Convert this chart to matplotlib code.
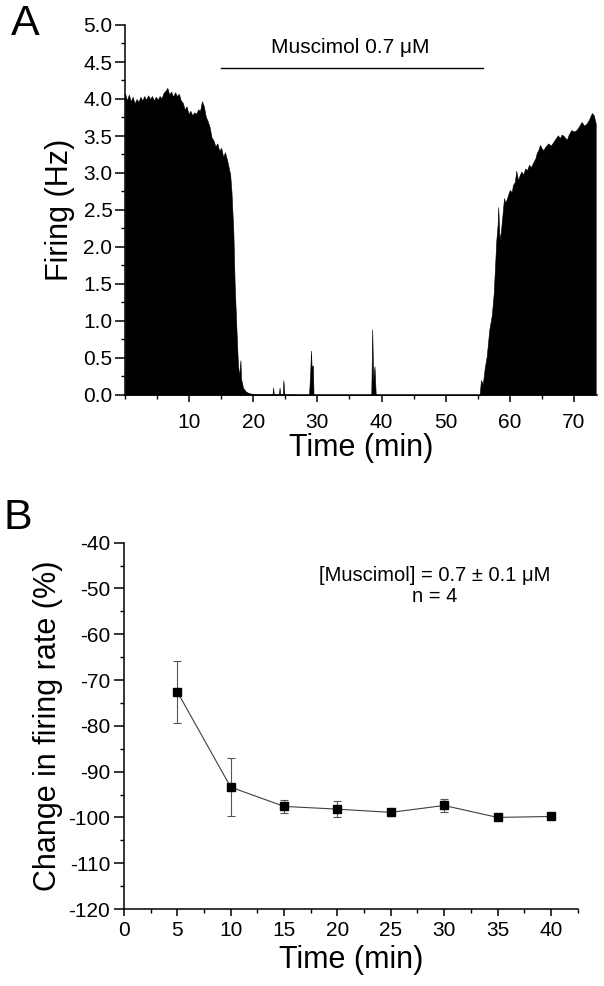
import matplotlib
matplotlib.use("Agg")
import matplotlib.pyplot as plt
from matplotlib.ticker import MultipleLocator, FormatStrFormatter

plt.rcParams['font.family'] = ['Liberation Sans', 'DejaVu Sans']
plt.rcParams['axes.unicode_minus'] = False

# ---- Panel A: firing-rate trace (time in min, rate in Hz) ----
trace_time = [
    0.0, 0.3, 0.6, 0.9, 1.2, 1.5, 1.8, 2.1, 2.4, 2.7, 3.0, 3.3, 3.6, 3.9,
    4.2, 4.5, 4.8, 5.1, 5.4, 5.7, 6.0, 6.3, 6.6, 6.9, 7.2, 7.5, 7.8, 8.1,
    8.4, 8.7, 9.0, 9.3, 9.6, 9.9, 10.2, 10.5, 10.8, 11.1, 11.4, 11.7, 12.0,
    12.3, 12.6, 12.9, 13.2, 13.5, 13.8, 14.1, 14.4, 14.7, 15.0, 15.3, 15.6,
    15.9, 16.1, 16.4, 16.6, 16.9, 17.1, 17.4, 17.6, 17.8, 18.0, 18.1, 18.4,
    18.8, 19.2, 19.6, 20.5, 23.0, 23.1, 23.2, 24.0, 24.1, 24.2, 24.6, 24.7,
    24.85, 28.7, 28.9, 29.0, 29.1, 29.3, 29.4, 38.4, 38.55, 38.7, 38.9, 39.1,
    55.3, 55.5, 55.8, 56.1, 56.4, 56.8, 57.2, 57.5, 57.9, 58.1, 58.2, 58.4,
    58.6, 58.8, 59.1, 59.3, 59.5, 59.8, 60.0, 60.3, 60.5, 60.8, 61.0, 61.3,
    61.5, 61.8, 62.1, 62.4, 62.7, 63.0, 63.3, 63.7, 64.0, 64.2, 64.5, 64.7,
    65.0, 65.2, 65.6, 66.0, 66.4, 66.8, 67.1, 67.5, 67.8, 68.1, 68.4, 68.9,
    69.2, 69.6, 70.0, 70.4, 70.8, 71.2, 71.6, 72.0, 72.4, 72.8, 73.1, 73.4,
]
trace_rate = [
    4.08, 3.98, 4.06, 3.97, 4.03, 3.94, 4.00, 3.96, 4.03, 3.98, 4.04, 3.99,
    4.05, 4.00, 4.04, 3.98, 4.03, 3.99, 4.04, 4.01, 4.08, 4.11, 4.15, 4.06,
    4.10, 4.03, 4.09, 4.04, 4.07, 3.98, 3.95, 3.86, 3.90, 3.80, 3.84, 3.78,
    3.82, 3.80, 3.86, 3.84, 3.97, 3.90, 3.76, 3.70, 3.62, 3.48, 3.44, 3.36,
    3.40, 3.30, 3.34, 3.22, 3.28, 3.18, 3.10, 2.98, 2.75, 2.20, 1.50, 0.84,
    0.43, 0.25, 0.47, 0.22, 0.10, 0.05, 0.03, 0.02, 0.01, 0.01, 0.10, 0.01,
    0.01, 0.10, 0.01, 0.01, 0.20, 0.01, 0.0, 0.35, 0.60, 0.38, 0.40, 0.0,
    0.0, 0.89, 0.20, 0.39, 0.0, 0.0, 0.20, 0.15, 0.37, 0.52, 0.88, 1.08,
    1.38, 2.09, 2.30, 2.54, 2.10, 2.20, 2.38, 2.66, 2.60, 2.64, 2.72, 2.77,
    2.74, 2.84, 2.88, 3.03, 2.90, 2.96, 3.02, 2.98, 3.06, 3.04, 3.11, 3.08,
    3.15, 3.20, 3.27, 3.32, 3.38, 3.33, 3.31, 3.36, 3.40, 3.37, 3.42, 3.46,
    3.51, 3.47, 3.52, 3.50, 3.45, 3.52, 3.58, 3.56, 3.58, 3.63, 3.69, 3.64,
    3.67, 3.73, 3.81, 3.78, 3.67,
]
drug_label = "Muscimol 0.7 \u03bcM"
drug_start, drug_end = 14.9, 55.8

# ---- Panel B: mean change in firing rate ----
b_time = [5, 10, 15, 20, 25, 30, 35, 40]
b_change = [-72.6, -93.4, -97.6, -98.2, -98.9, -97.4, -100.0, -99.8]
b_err = [6.7, 6.4, 1.4, 1.8, 0.8, 1.4, 0.0, 0.2]

W, H = 604, 986
fig = plt.figure(figsize=(W / 100, H / 100), dpi=100)

def style_axes(ax):
    for s in ('top', 'right'):
        ax.spines[s].set_visible(False)
    for s in ('left', 'bottom'):
        ax.spines[s].set_linewidth(1.1)
    ax.tick_params(which='major', direction='out', length=5, width=1.1,
                   labelsize=15)
    ax.tick_params(which='minor', direction='out', length=3, width=1.0)

# Panel A
axA = fig.add_axes([125 / W, 1 - 395 / H, 472 / W, 370 / H])
axA.fill_between(trace_time, trace_rate, 0, color='black', linewidth=0.4,
                 edgecolor='black')
axA.set_xlim(0, 73.6)
axA.set_ylim(0, 5)
axA.set_xticks([10, 20, 30, 40, 50, 60, 70])
axA.xaxis.set_minor_locator(MultipleLocator(5))
axA.yaxis.set_major_locator(MultipleLocator(0.5))
axA.yaxis.set_minor_locator(MultipleLocator(0.25))
axA.yaxis.set_major_formatter(FormatStrFormatter('%.1f'))
style_axes(axA)
axA.tick_params(axis='x', which='major', pad=8)
axA.tick_params(axis='y', which='major', pad=2, length=7)
axA.set_xlabel('Time (min)', fontsize=22, labelpad=1)
axA.set_ylabel('Firing (Hz)', fontsize=22, labelpad=6)
axA.plot([drug_start, drug_end], [4.42, 4.42], color='black', lw=1.0,
         clip_on=False)
axA.text((drug_start + drug_end) / 2 - 0.3, 4.70, drug_label, fontsize=15,
         ha='center', va='center')

# Panel B
axB = fig.add_axes([124 / W, 1 - 909 / H, 454 / W, 366.4 / H])
axB.errorbar(b_time, b_change, yerr=b_err, fmt='-s', color='#404040',
             lw=0.8, ecolor='#555555', elinewidth=0.8, capsize=3,
             capthick=0.8, markersize=5.5, markerfacecolor='black',
             markeredgecolor='black', clip_on=False)
axB.set_xlim(0, 42.54)
axB.set_ylim(-120, -40)
axB.xaxis.set_major_locator(MultipleLocator(5))
axB.xaxis.set_minor_locator(MultipleLocator(2.5))
axB.yaxis.set_major_locator(MultipleLocator(10))
axB.yaxis.set_minor_locator(MultipleLocator(5))
style_axes(axB)
axB.tick_params(axis='x', which='major', pad=4)
axB.tick_params(axis='y', which='major', pad=3, length=7)
axB.set_xlabel('Time (min)', fontsize=22, labelpad=3)
axB.set_ylabel('Change in firing rate (%)', fontsize=22, labelpad=4)
axB.text(29.1, -47.1, '[Muscimol] = 0.7 \u00b1 0.1 \u03bcM', fontsize=14.5,
         ha='center', va='center')
axB.text(29.1, -51.7, 'n = 4', fontsize=14.5, ha='center', va='center')

# Panel letters
fig.text(25 / W, 1 - 24 / H, 'A', fontsize=31, ha='center', va='center')
fig.text(18 / W, 1 - 518 / H, 'B', fontsize=31, ha='center', va='center')

fig.savefig('out.png', dpi=100)
